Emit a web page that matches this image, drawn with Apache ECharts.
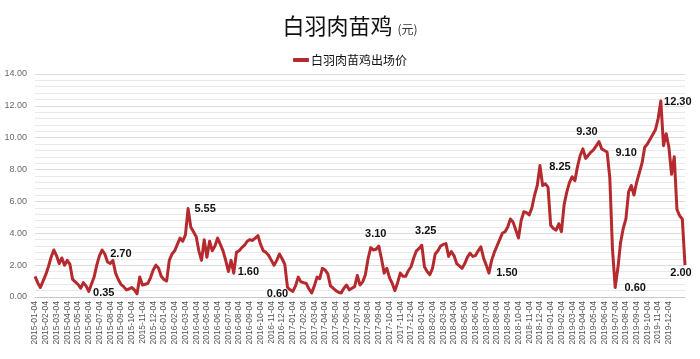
<!DOCTYPE html>
<html>
<head>
<meta charset="utf-8">
<script src="https://cdn.jsdelivr.net/npm/echarts@6/dist/echarts.min.js"></script>
<style>html,body{margin:0;padding:0;background:#fff}#c{width:700px;height:359px}</style>
</head>
<body>
<div id="c"></div>
<script>
// Month tick labels (one per month)
const monthLabels = [
  '2015-01-04','2015-02-04','2015-03-04','2015-04-04','2015-05-04','2015-06-04','2015-07-04','2015-08-04','2015-09-04','2015-10-04','2015-11-04','2015-12-04',
  '2016-01-04','2016-02-04','2016-03-04','2016-04-04','2016-05-04','2016-06-04','2016-07-04','2016-08-04','2016-09-04','2016-10-04','2016-11-04','2016-12-04',
  '2017-01-04','2017-02-04','2017-03-04','2017-04-04','2017-05-04','2017-06-04','2017-07-04','2017-08-04','2017-09-04','2017-10-04','2017-11-04','2017-12-04',
  '2018-01-04','2018-02-04','2018-03-04','2018-04-04','2018-05-04','2018-06-04','2018-07-04','2018-08-04','2018-09-04','2018-10-04','2018-11-04','2018-12-04',
  '2019-01-04','2019-02-04','2019-03-04','2019-04-04','2019-05-04','2019-06-04','2019-07-04','2019-08-04','2019-09-04','2019-10-04','2019-11-04','2019-12-04'
];
const extraTail = ['2020-01-04'];
const weeksPerMonth = 4;

// Weekly price values (4 per month)
const priceValues = [
  1.30,0.90,0.60,1.00,  1.40,1.90,2.50,2.95,  2.60,2.10,2.45,2.00,  2.30,2.05,1.10,0.95,
  0.80,0.55,0.90,0.70,  0.35,0.80,1.25,2.00,  2.60,2.95,2.70,2.20,  2.10,2.30,1.50,1.10,
  0.80,0.65,0.45,0.50,  0.60,0.45,0.20,1.25,  0.75,0.80,0.85,1.20,  1.70,2.00,1.80,1.30,
  1.10,1.00,2.30,2.70,  2.90,3.30,3.70,3.50,  3.90,5.55,4.40,4.10,  3.80,2.90,2.30,3.60,
  2.50,3.50,2.90,3.20,  3.70,3.30,2.90,2.30,  1.60,2.30,1.50,2.80,  2.90,3.10,3.25,3.50,
  3.60,3.55,3.70,3.85,  3.30,2.90,2.80,2.60,  2.30,2.00,2.30,2.70,  2.40,2.05,0.60,0.45,
  0.35,0.70,1.25,0.95,  0.90,0.85,0.50,0.25,  0.70,1.25,1.15,1.80,  1.70,1.45,0.70,0.55,
  0.40,0.30,0.25,0.55,  0.75,0.45,0.55,0.65,  1.35,0.75,0.95,1.40,  2.40,3.10,2.95,3.00,
  3.20,2.40,1.50,1.80,  1.20,0.85,0.40,0.90,  1.50,1.30,1.30,1.65,  1.90,2.45,2.90,3.05,
  3.25,1.90,1.60,1.40,  1.80,2.70,2.90,3.20,  3.30,3.35,2.55,2.85,  2.60,2.10,1.95,1.80,
  2.10,2.50,2.75,2.55,  2.60,2.90,3.15,2.45,  2.00,1.50,2.30,2.80,  3.20,3.60,4.00,4.10,
  4.40,4.90,4.70,4.20,  3.70,4.80,5.35,5.30,  5.15,5.60,6.40,7.00,  8.25,7.00,7.10,6.90,
  4.50,4.30,4.20,4.60,  4.10,5.80,6.60,7.20,  7.55,7.30,8.20,8.90,  9.30,8.70,8.90,9.10,
  9.25,9.50,9.75,9.30,  9.20,9.10,7.50,3.00,  0.60,1.80,3.40,4.30,  4.90,6.60,7.00,6.40,
  7.20,7.80,8.40,9.40,  9.60,9.90,10.20,10.50, 11.20,12.30,9.50,10.25, 9.40,7.70,8.80,5.50,
  5.10,4.90,2.00
];

// Annotated points: category index and text
const noteIndex = [20, 26, 57, 72, 94, 125, 144, 169, 188, 204, 213, 216, 233, 242];
const noteText  = ['0.35','2.70','5.55','1.60','0.60','3.10','3.25','1.50','8.25','9.30','9.10','0.60','12.30','2.00'];
const noteOffset = [[15,2],[16,0],[17,0],[20,0],[-10,7],[5,-14],[4,-14],[18,0],[20,1],[4,-17],[19,1],[20,1],[17,1],[-4,8]];

const yTicks = { min: 0, max: 14, interval: 2 };

// build categories
const allMonths = monthLabels.concat(extraTail);
const categories = [];
for (let i = 0; i < priceValues.length; i++) {
  const m = Math.floor(i / weeksPerMonth), w = i % weeksPerMonth;
  categories.push(w === 0 ? allMonths[m] : allMonths[m] + '#' + w);
}

const markData = noteIndex.map((idx, k) => ({
  coord: [idx, priceValues[idx]],
  value: noteText[k],
  label: { offset: noteOffset[k] }
}));

const chart = echarts.init(document.getElementById('c'));
chart.setOption({
  animation: false,
  backgroundColor: '#fff',
  title: {
    text: '{a|白羽肉苗鸡} {b|(元)}',
    left: 'center',
    top: 10,
    textStyle: {
      fontWeight: 'normal',
      rich: {
        a: { fontSize: 22, color: '#111', fontWeight: 'normal', fontFamily: 'Noto Sans CJK SC' },
        b: { fontSize: 12, color: '#333', fontWeight: 'normal', fontFamily: 'Noto Sans CJK SC', padding: [6, 0, 0, 0] }
      }
    }
  },
  legend: {
    top: 49,
    left: 'center',
    icon: 'roundRect',
    itemWidth: 16,
    itemHeight: 4,
    itemGap: 4,
    textStyle: { fontSize: 12, color: '#111', fontFamily: 'Noto Sans CJK SC', padding: [0, 0, 0, -3] },
    data: ['白羽肉苗鸡出场价']
  },
  grid: { left: 35, right: 15, top: 74, bottom: 62 },
  xAxis: {
    type: 'category',
    boundaryGap: false,
    data: categories,
    axisLine: { lineStyle: { color: '#c8c8c8' } },
    axisTick: { show: false },
    splitLine: { show: false },
    axisLabel: {
      rotate: 90,
      fontSize: 8.5,
      color: '#555',
      fontFamily: 'Liberation Sans',
      margin: 4,
      interval: function (idx) { return idx % weeksPerMonth === 0 && idx / weeksPerMonth < monthLabels.length; },
      formatter: function (v) { return v.split('#')[0]; }
    }
  },
  yAxis: {
    type: 'value',
    min: yTicks.min,
    max: yTicks.max,
    interval: yTicks.interval,
    axisLine: { show: false },
    axisTick: { show: false },
    axisLabel: {
      fontSize: 9,
      color: '#666',
      fontFamily: 'Liberation Sans',
      margin: 8,
      formatter: function (v) { return v.toFixed(2); }
    },
    splitLine: { lineStyle: { color: '#dddddd' } },
    minorTick: { show: false, splitNumber: 5 },
    minorSplitLine: { show: true, lineStyle: { color: '#e9e9e9' } }
  },
  series: [{
    name: '白羽肉苗鸡出场价',
    type: 'line',
    data: priceValues,
    showSymbol: false,
    symbol: 'none',
    color: '#b52a2e',
    lineStyle: { width: 3, color: '#b52a2e', join: 'round' },
    markPoint: {
      symbol: 'circle',
      symbolSize: 0,
      label: {
        show: true,
        position: 'inside',
        color: '#111',
        fontWeight: 'bold',
        fontSize: 11,
        fontFamily: 'Liberation Sans',
        formatter: function (p) { return p.value; }
      },
      data: markData
    }
  }]
});
</script>
</body>
</html>
